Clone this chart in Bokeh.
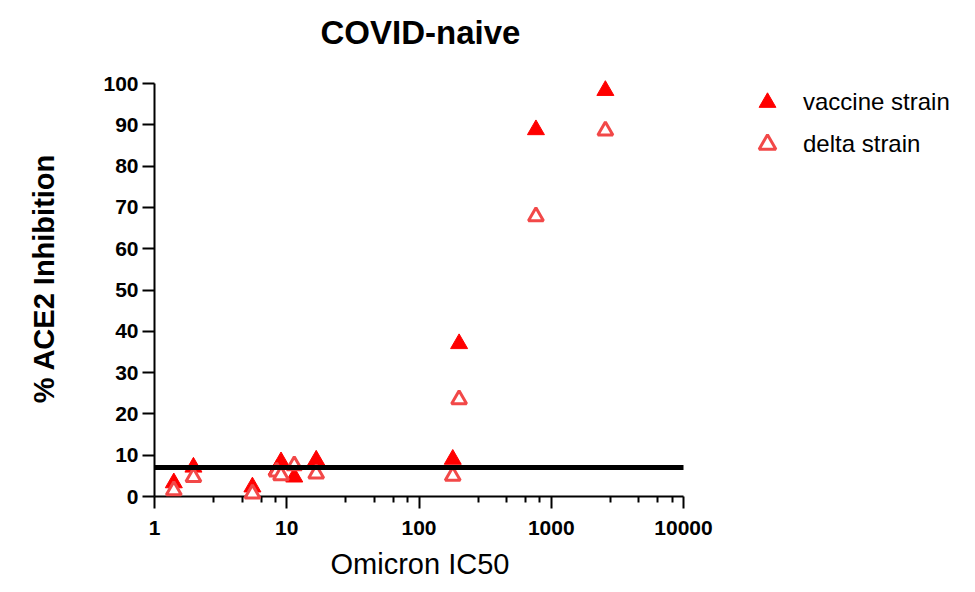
from bokeh.plotting import figure
from bokeh.models import (ColumnDataSource, FixedTicker, Legend, LegendItem,
                          Range1d, Title)
from bokeh.embed import file_html
from bokeh.resources import INLINE

# ---- data ----
omicron_ic50 = [1.40, 1.97, 5.5, 8.4, 9.05, 11.4, 16.7, 180, 201, 766, 2566]
vaccine_strain = [3.3, 7.1, 2.3, 6.5, 8.4, 4.7, 8.8, 9.0, 37.0, 88.8, 98.3]
delta_strain = [1.5, 4.7, 0.7, 6.0, 5.1, 7.5, 5.5, 5.0, 23.5, 67.8, 88.6]
threshold = 7.0

x_ticks = [1, 10, 100, 1000, 10000]
x_tick_labels = ["1", "10", "100", "1000", "10000"]
y_ticks = [0, 10, 20, 30, 40, 50, 60, 70, 80, 90, 100]

FONT = "Liberation Sans"

# layout: the x axis occupies 529 px for 4 decades, the y axis 413 px for 0-100;
# the frame is widened to the right (legend) and upwards (title room)
AXIS_PX = 529
FRAME_W = 805
AXIS_PY = 413
FRAME_H = 436
x_end = x_ticks[0] * 10 ** (4 * FRAME_W / AXIS_PX)
y_end = y_ticks[-1] * FRAME_H / AXIS_PY

src = ColumnDataSource(dict(x=omicron_ic50, vac=vaccine_strain, dlt=delta_strain))

p = figure(frame_width=FRAME_W, frame_height=FRAME_H, x_axis_type="log",
           x_range=Range1d(x_ticks[0], x_end),
           y_range=Range1d(y_ticks[0], y_end),
           output_backend="svg", toolbar_location=None,
           min_border_left=154, min_border_right=0,
           min_border_top=60, min_border_bottom=10)

p.title.text = "COVID-naive"
p.title.text_font = FONT
p.title.text_font_size = "33px"
p.title.text_font_style = "bold"
p.title.text_color = "black"
p.title.align = "left"
p.title.offset = 166
p.title.vertical_align = "top"
p.title.standoff = 16

p.outline_line_color = None
p.xgrid.visible = False
p.ygrid.visible = False

minor = []
for d in x_ticks[:-1]:
    for k in range(1, 5):
        minor.append(d * (1 + 1.8 * k))

xa = p.xaxis[0]
xa.ticker = FixedTicker(ticks=x_ticks, minor_ticks=minor)
xa.major_label_overrides = {t: l for t, l in zip(x_ticks, x_tick_labels)}
xa.bounds = (x_ticks[0], x_ticks[-1])
ya = p.yaxis[0]
ya.ticker = FixedTicker(ticks=y_ticks, minor_ticks=[])
ya.bounds = (y_ticks[0], y_ticks[-1])

for ax in (xa, ya):
    ax.axis_line_width = 2
    ax.axis_line_color = "black"
    ax.major_tick_line_width = 2
    ax.major_tick_line_color = "black"
    ax.major_tick_in = 0
    ax.major_tick_out = 12
    ax.minor_tick_line_width = 2
    ax.minor_tick_line_color = "black"
    ax.minor_tick_in = 0
    ax.minor_tick_out = 6
    ax.major_label_text_font = FONT
    ax.major_label_text_font_size = "21px"
    ax.major_label_text_font_style = "bold"
    ax.major_label_text_color = "black"
    ax.axis_label_text_font = FONT
    ax.axis_label_text_color = "black"

xa.major_label_standoff = 12

ya.major_label_standoff = 4
ya.axis_label = "% ACE2 Inhibition"
ya.axis_label_text_font_size = "29px"
ya.axis_label_text_font_style = "bold"
ya.axis_label_standoff = 40

# x-axis title, placed under the axis and centred on the axis extent
xlabel = Title(text="Omicron IC50", align="left", offset=176,
               text_font=FONT, text_font_size="29px", text_font_style="normal",
               text_color="black", standoff=16)
p.add_layout(xlabel, "below")

r_vac = p.scatter("x", "vac", source=src, marker="triangle", size=17,
                  fill_color="#FF0000", line_color="#FF0000", line_width=1,
                  level="overlay")
r_dlt = p.scatter("x", "dlt", source=src, marker="triangle", size=15,
                  fill_color="white", line_color="#F24848", line_width=3,
                  level="overlay")

p.line(x=[x_ticks[0], x_ticks[-1]], y=[threshold, threshold],
       line_color="black", line_width=5, level="overlay")

legend = Legend(items=[LegendItem(label="vaccine strain", renderers=[r_vac]),
                       LegendItem(label="delta strain", renderers=[r_dlt])],
                location=(592, 331), orientation="vertical")
legend.border_line_color = None
legend.background_fill_alpha = 0
legend.label_text_font = FONT
legend.label_text_font_size = "24px"
legend.label_text_color = "black"
legend.glyph_width = 42
legend.glyph_height = 42
legend.label_height = 42
legend.label_standoff = 15
legend.spacing = 0
legend.padding = 0
legend.margin = 0
p.add_layout(legend)

open("out.html", "w").write(file_html(p, INLINE))
